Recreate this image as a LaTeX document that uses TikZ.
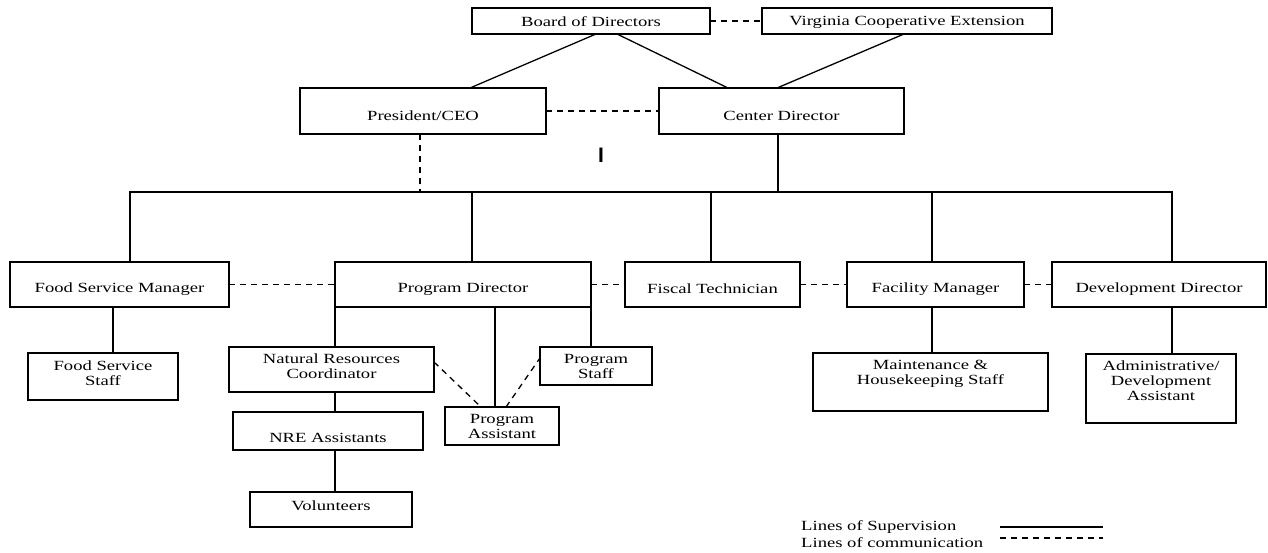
\documentclass[tikz,border=0pt]{standalone}
\usepackage{fontspec}
\setmainfont{Liberation Serif}[FakeStretch=1.33]
\newfontfamily\barfont{Liberation Sans}
\usetikzlibrary{calc}
\tikzset{
  box/.style={draw=black, line width=1.3pt, inner sep=0pt, outer sep=0pt, fill=white},
  lbl/.style={font=\fontsize{14}{15}\selectfont, align=center, inner sep=0pt},
  supline/.style={line width=1.3pt},
  comm/.style={line width=1.3pt, dash pattern=on 6pt off 5pt},
}
\newcommand\obox[7]{%
  \node[box, minimum width={(#4-#2)*1pt}, minimum height={(#5-#3)*1pt}] (#1) at ({(#2+#4)/2},{(#3+#5)/2}) {};
  \node[lbl] (#1t) at ({(#2+#4)/2},{(#3+#5)/2+#6}) {#7};}
\begin{document}
\begin{tikzpicture}[x=1pt,y=-1pt]
\useasboundingbox (0,0) rectangle (1268,552);
% boxes
\obox{board}{472}{8}{710}{34}{0.5}{Board of Directors}
\obox{vce}{762}{8}{1052}{34}{1}{Virginia Cooperative Extension}
\obox{ceo}{300}{88}{546}{134}{5}{President/CEO}
\obox{cdir}{659}{88}{904}{134}{5}{Center Director}
\obox{fsm}{10}{262}{229}{307}{4.5}{Food Service Manager}
\obox{pd}{335}{262}{591}{307}{4.5}{Program Director}
\obox{fis}{625}{262}{800}{307}{4.5}{Fiscal Technician}
\obox{fac}{847}{262}{1024}{307}{4.5}{Facility Manager}
\obox{dev}{1052}{262}{1266}{307}{4.5}{Development Director}
\obox{fss}{28}{353}{178}{400}{-3.6}{Food Service\\Staff}
\obox{nrc}{229}{347}{434}{392}{-3}{Natural Resources\\Coordinator}
\obox{ps}{540}{347}{652}{385}{0}{Program\\Staff}
\obox{pa}{445}{407}{559}{445}{0.5}{Program\\Assistant}
\obox{nre}{233}{412}{423}{450}{7}{NRE Assistants}
\obox{vol}{250}{492}{412}{527}{-4}{Volunteers}
\obox{mhs}{813}{353}{1048}{411}{-8.5}{Maintenance \&\\Housekeeping Staff}
\obox{ads}{1086}{354}{1236}{423}{-7.5}{Administrative/\\Development\\Assistant}
% top level
\draw[supline] ([xshift=5pt]board.south) -- ([xshift=47pt]ceo.north);
\draw[supline] ([xshift=26pt]board.south) -- ([xshift=-53.5pt]cdir.north);
\draw[supline] ([xshift=-3pt]vce.south) -- ([xshift=-4.5pt]cdir.north);
\draw[comm] (board.east) -- (vce.west);
\draw[comm] (ceo.east) -- (cdir.west);
% bus
\coordinate (bL) at (130,192);
\coordinate (bR) at (1172,192);
\coordinate (b2) at (472,192);
\coordinate (b3) at (711,192);
\coordinate (b4) at (932,192);
\coordinate (bC) at (778,192);
\coordinate (bP) at (420,192);
\draw[supline] (bL |- fsm.north) -- (bL) -- (bR) -- (bR |- dev.north);
\draw[supline] (bC |- cdir.south) -- (bC);
\draw[comm] (bP |- ceo.south) -- (bP);
\draw[supline] (b2) -- (b2 |- pd.north);
\draw[supline] (b3) -- (b3 |- fis.north);
\draw[supline] (b4) -- (b4 |- fac.north);
% row 2 communication
\draw[comm] (fsm.east) -- (pd.west);
\draw[comm] (pd.east) -- (fis.west);
\draw[comm] (fis.east) -- (fac.west);
\draw[comm] (fac.east) -- (dev.west);
% row 3
\coordinate (v1) at (113,307);
\draw[supline] (v1) -- (v1 |- fss.north);
\draw[supline] (pd.south west) -- (pd.south west |- nrc.north);
\draw[supline] (pd.south east) -- (pd.south east |- ps.north);
\coordinate (v2) at (495,307);
\draw[supline] (v2) -- (v2 |- pa.north);
\coordinate (v3) at (335,392);
\draw[supline] (v3) -- (v3 |- nre.north);
\coordinate (v4) at (335,450);
\draw[supline] (v4) -- (v4 |- vol.north);
\coordinate (v5) at (932,307);
\draw[supline] (v5) -- (v5 |- mhs.north);
\coordinate (v6) at (1172,307);
\draw[supline] (v6) -- (v6 |- ads.north);
\draw[comm] ([yshift=7.5pt]nrc.east) -- ([xshift=-21pt]pa.north);
\draw[comm] ([xshift=4pt]pa.north) -- ([yshift=8pt]ps.west);
% stray mark
\node[font=\barfont\bfseries\fontsize{21}{21}\selectfont, inner sep=0pt] (imark) at (601,155) {I};
% legend
\node[lbl, anchor=west] (lsup) at (801,527) {Lines of Supervision};
\node[lbl, anchor=west] (lcom) at (801,542.5) {Lines of communication};
\coordinate (s1) at (1000,527);
\coordinate (s2) at (1103,527);
\coordinate (c1) at (1000,538);
\coordinate (c2) at (1103,538);
\draw[supline] (s1) -- (s2);
\draw[comm] (c1) -- (c2);
\end{tikzpicture}
\end{document}
